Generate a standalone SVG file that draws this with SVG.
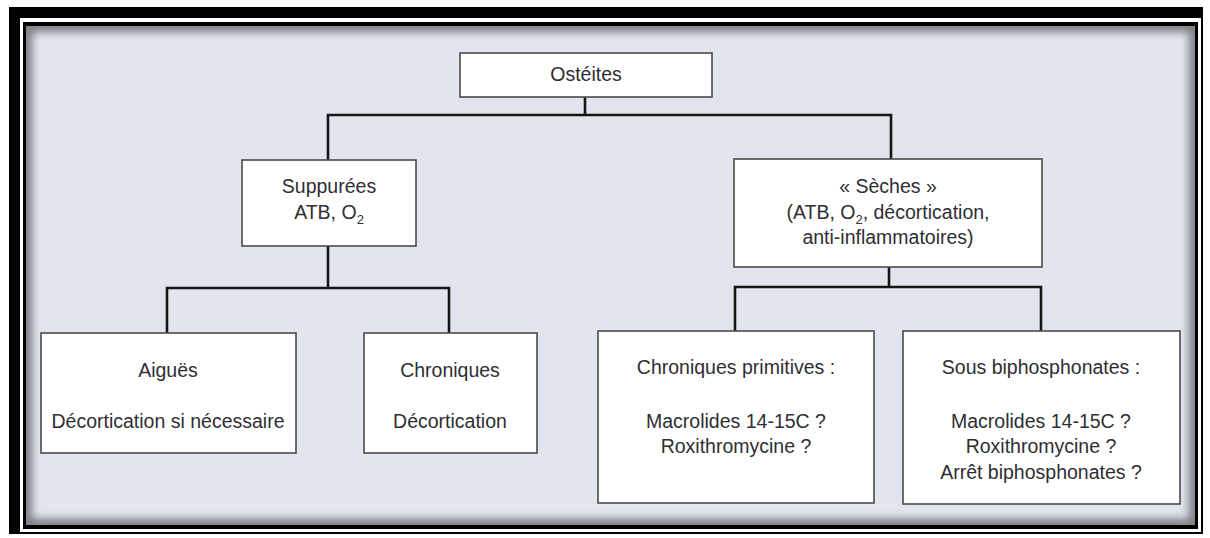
<svg xmlns="http://www.w3.org/2000/svg" width="1210" height="538" viewBox="0 0 1210 538">
  <defs>
    <style>
      .box { fill: #ffffff; stroke: #4a4a4a; stroke-width: 1.6; }
      .txt { font-family: "Liberation Sans", Arial, sans-serif; font-size: 19.5px; fill: #2e2e33; text-anchor: middle; }
      .sub { font-size: 13px; }
      .conn { fill: none; stroke: #161616; stroke-width: 2.6; }
    </style>
    <clipPath id="innerClip">
      <rect x="26" y="26" width="1169" height="499"/>
    </clipPath>
    <filter id="blur" x="-5%" y="-5%" width="110%" height="110%">
      <feGaussianBlur stdDeviation="4"/>
    </filter>
  </defs>

  <!-- frame -->
  <g id="frame">
    <rect x="0" y="0" width="1210" height="538" fill="#ffffff"/>
    <rect x="9" y="7" width="1194" height="527" fill="#000000"/>
    <rect x="20" y="18" width="1181" height="514" fill="#ffffff"/>
    <rect x="23" y="22" width="1175" height="507" fill="#000000"/>
    <rect x="26" y="26" width="1169" height="499" fill="#e2e5ee"/>
    <g clip-path="url(#innerClip)">
      <rect x="26" y="26" width="1169" height="499" fill="none" stroke="#7a7a80" stroke-width="12" filter="url(#blur)"/>
    </g>
  </g>

  <!-- connectors -->
  <g id="connectors" class="conn">
    <path class="conn" d="M585,97 V115 M328,160 V115 H891 V159"/>
    <path class="conn" d="M328,246 V288 M167,333 V288 H449 V333"/>
    <path class="conn" d="M889,267 V287 M735,331 V287 H1041 V331"/>
  </g>

  <g id="node-osteites">
    <rect class="box" x="460" y="53" width="252" height="44"/>
    <text class="txt" x="586" y="81">Ostéites</text>
  </g>

  <g id="node-suppurees">
    <rect class="box" x="242" y="160" width="174" height="86"/>
    <text class="txt" x="329" y="193">Suppurées</text>
    <text class="txt" x="329" y="219">ATB, O<tspan class="sub" dy="5">2</tspan></text>
  </g>

  <g id="node-seches">
    <rect class="box" x="734" y="159" width="308" height="108"/>
    <text class="txt" x="888" y="193">« Sèches »</text>
    <text class="txt" x="888" y="219">(ATB, O<tspan class="sub" dy="5">2</tspan><tspan dy="-5">, décortication,</tspan></text>
    <text class="txt" x="888" y="244">anti-inflammatoires)</text>
  </g>

  <g id="node-aigues">
    <rect class="box" x="41" y="333" width="255" height="120"/>
    <text class="txt" x="168" y="377">Aiguës</text>
    <text class="txt" x="168" y="428">Décortication si nécessaire</text>
  </g>

  <g id="node-chroniques">
    <rect class="box" x="364" y="333" width="173" height="120"/>
    <text class="txt" x="450" y="377">Chroniques</text>
    <text class="txt" x="450" y="428">Décortication</text>
  </g>

  <g id="node-chroniques-primitives">
    <rect class="box" x="598" y="331" width="276" height="172"/>
    <text class="txt" x="736" y="374">Chroniques primitives :</text>
    <text class="txt" x="736" y="428">Macrolides 14-15C ?</text>
    <text class="txt" x="736" y="453">Roxithromycine ?</text>
  </g>

  <g id="node-sous-biphosphonates">
    <rect class="box" x="903" y="331" width="277" height="173"/>
    <text class="txt" x="1041" y="374">Sous biphosphonates :</text>
    <text class="txt" x="1041" y="428">Macrolides 14-15C ?</text>
    <text class="txt" x="1041" y="453">Roxithromycine ?</text>
    <text class="txt" x="1041" y="479">Arrêt biphosphonates ?</text>
  </g>
</svg>
